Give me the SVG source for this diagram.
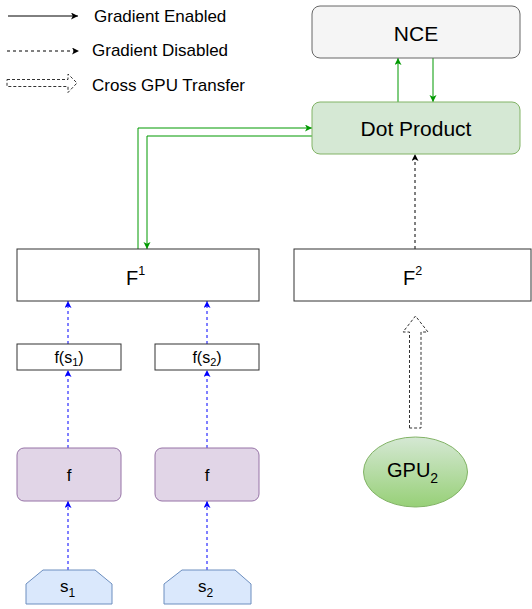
<svg xmlns="http://www.w3.org/2000/svg" width="532" height="609" viewBox="0 0 532 609">
<style>
text{font-family:"Liberation Sans",Arial,sans-serif;fill:#000}
.box{fill:#fff;stroke:#333;stroke-width:1}
.g{fill:none;stroke:#009900;stroke-width:1}
.bl{fill:none;stroke:#0000ff;stroke-width:1;stroke-dasharray:3 3}
.bk{fill:none;stroke:#000;stroke-width:1;stroke-dasharray:3 3}
.blk{fill:#fff;stroke:#333;stroke-width:1;stroke-dasharray:3 2}
</style>
<defs>
<marker id="ag" markerUnits="userSpaceOnUse" markerWidth="8" markerHeight="8" refX="7" refY="3.5" orient="auto"><path d="M0,0 L7,3.5 L0,7 L1.8,3.5 Z" fill="#009900"/></marker>
<marker id="ab" markerUnits="userSpaceOnUse" markerWidth="8" markerHeight="8" refX="7" refY="3.5" orient="auto"><path d="M0,0 L7,3.5 L0,7 L1.8,3.5 Z" fill="#0000ff"/></marker>
<marker id="ak" markerUnits="userSpaceOnUse" markerWidth="8" markerHeight="8" refX="7" refY="3.5" orient="auto"><path d="M0,0 L7,3.5 L0,7 L1.8,3.5 Z" fill="#000"/></marker>
<linearGradient id="gg" x1="0" y1="0" x2="0" y2="1"><stop offset="0" stop-color="#d5e8d4"/><stop offset="1" stop-color="#97d077"/></linearGradient>
</defs>

<g id="legend">
<line x1="8" y1="16" x2="78" y2="16" stroke="#000" stroke-width="1" marker-end="url(#ak)"/>
<text x="94" y="22" font-size="17">Gradient Enabled</text>
<line x1="7" y1="51" x2="79" y2="51" class="bk" marker-end="url(#ak)"/>
<text x="92" y="56" font-size="17">Gradient Disabled</text>
<path d="M7,79.5 L68,79.5 L68,74 L77,83 L68,92.5 L68,86.5 L7,86.5 Z" class="blk"/>
<text x="92" y="91" font-size="17">Cross GPU Transfer</text>
</g>

<g id="connectors">
<path d="M138,249 L138,128 L312,128" class="g" marker-end="url(#ag)"/>
<path d="M312,136 L147,136 L147,249" class="g" marker-end="url(#ag)"/>
<line x1="398" y1="102" x2="398" y2="58" class="g" marker-end="url(#ag)"/>
<line x1="433" y1="58" x2="433" y2="102" class="g" marker-end="url(#ag)"/>
<line x1="415" y1="249" x2="415" y2="154" class="bk" marker-end="url(#ak)"/>
<line x1="68" y1="344" x2="68" y2="301" class="bl" marker-end="url(#ab)"/>
<line x1="68" y1="448" x2="68" y2="370" class="bl" marker-end="url(#ab)"/>
<line x1="68" y1="570" x2="68" y2="501" class="bl" marker-end="url(#ab)"/>
<line x1="207" y1="344" x2="207" y2="301" class="bl" marker-end="url(#ab)"/>
<line x1="207" y1="448" x2="207" y2="370" class="bl" marker-end="url(#ab)"/>
<line x1="207" y1="570" x2="207" y2="501" class="bl" marker-end="url(#ab)"/>
<path d="M409.5,428 L409.5,332 L403,332 L415.5,316 L428,332 L421,332 L421,428 Z" class="blk"/>
</g>

<g id="nce">
<rect x="312" y="6" width="208" height="52" rx="8" fill="#f5f5f5" stroke="#666"/>
<text x="416" y="40.5" font-size="21" text-anchor="middle">NCE</text>
</g>
<g id="dot">
<rect x="312" y="102" width="208" height="52" rx="8" fill="#d5e8d4" stroke="#82b366"/>
<text x="416" y="136" font-size="21" text-anchor="middle">Dot Product</text>
</g>
<g id="F1">
<rect x="17" y="249" width="242" height="52" class="box"/>
<text x="126" y="284.5" font-size="20">F<tspan font-size="12.5" dy="-10">1</tspan></text>
</g>
<g id="F2">
<rect x="294" y="249" width="237" height="52" class="box"/>
<text x="403" y="284.5" font-size="20">F<tspan font-size="12.5" dy="-10">2</tspan></text>
</g>
<g id="fs1">
<rect x="17" y="344" width="104" height="26" class="box"/>
<text x="69" y="363" font-size="16" text-anchor="middle">f(s<tspan font-size="11" dy="3">1</tspan><tspan dy="-3">)</tspan></text>
</g>
<g id="fs2">
<rect x="155" y="344" width="104" height="26" class="box"/>
<text x="207" y="363" font-size="16" text-anchor="middle">f(s<tspan font-size="11" dy="3">2</tspan><tspan dy="-3">)</tspan></text>
</g>
<g id="f1">
<rect x="17" y="448" width="104" height="53" rx="7" fill="#e1d5e7" stroke="#9673a6"/>
<text x="69" y="481" font-size="17" text-anchor="middle">f</text>
</g>
<g id="f2">
<rect x="155" y="448" width="104" height="53" rx="7" fill="#e1d5e7" stroke="#9673a6"/>
<text x="207" y="481" font-size="17" text-anchor="middle">f</text>
</g>
<g id="s1">
<path d="M26,604 L26,584 L43,570 L95,570 L112,584 L112,604 Z" fill="#dae8fc" stroke="#6c8ebf"/>
<text x="60" y="592" font-size="17">s<tspan font-size="12" dy="5">1</tspan></text>
</g>
<g id="s2">
<path d="M164,604 L164,584 L182,570 L235,570 L251,584 L251,604 Z" fill="#dae8fc" stroke="#6c8ebf"/>
<text x="198" y="592" font-size="17">s<tspan font-size="12" dy="5">2</tspan></text>
</g>
<g id="gpu2">
<ellipse cx="415.5" cy="472" rx="52" ry="35" fill="url(#gg)" stroke="#82b366"/>
<text x="387" y="477" font-size="20">GPU<tspan font-size="14" dy="6">2</tspan></text>
</g>
</svg>
